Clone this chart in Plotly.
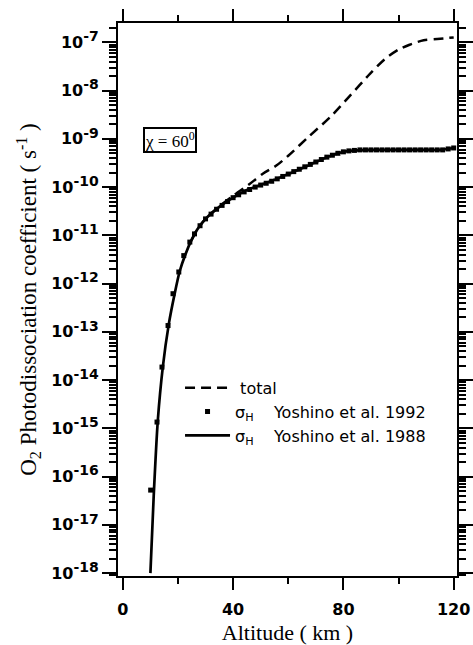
import plotly.graph_objects as go

# ---- data ----
alt_total = [24.9, 27, 30, 35, 40, 46.1, 50.9, 55.8, 60.0, 67.5, 75.2, 82.5, 89.7, 95.0, 100.0, 104.0, 109.1, 114.0, 120]
j_total = [7.94e-12, 1.32e-11, 2.19e-11, 3.98e-11, 6.61e-11, 1.17e-10, 1.91e-10, 2.82e-10, 4.47e-10,
           1.12e-9, 2.82e-9, 7.94e-9, 2.24e-8, 4.47e-8, 7.08e-8, 8.91e-8, 1.10e-7, 1.17e-7, 1.26e-7]

alt_1992 = [10.1, 12.4, 14.2, 16.4, 18.2, 20.3, 22.1, 24.3, 26, 28, 30, 32, 34, 36, 38, 40, 42, 44, 46, 48,
            50, 52, 54, 56, 58, 60, 62, 64, 66, 68, 70, 72, 74, 76, 78, 80, 82, 84, 86, 88, 90, 92, 94,
            96, 98, 100, 102, 104, 106, 108, 110, 112, 114, 116, 118, 120]
j_1992 = [5.25e-17, 1.35e-15, 1.86e-14, 1.35e-13, 6.17e-13, 1.74e-12, 3.80e-12, 7.24e-12, 1.07e-11, 1.58e-11,
          2.19e-11, 2.75e-11, 3.47e-11, 4.17e-11, 5.01e-11, 6.03e-11, 6.92e-11, 7.94e-11, 8.91e-11, 1.00e-10,
          1.10e-10, 1.20e-10, 1.32e-10, 1.48e-10, 1.66e-10, 1.86e-10, 2.09e-10, 2.34e-10, 2.63e-10, 2.95e-10,
          3.31e-10, 3.72e-10, 4.17e-10, 4.57e-10, 5.01e-10, 5.37e-10, 5.62e-10, 5.75e-10, 5.89e-10, 5.89e-10,
          5.89e-10, 5.89e-10, 5.89e-10, 5.89e-10, 5.89e-10, 5.89e-10, 5.89e-10, 5.89e-10, 5.89e-10, 5.89e-10,
          5.89e-10, 5.89e-10, 5.89e-10, 5.89e-10, 6.17e-10, 6.46e-10]

alt_1988 = [10, 11.2, 12.7, 14.5, 16.7, 18.8, 20.6, 22.8, 24.9, 27, 30, 35, 40, 45, 50, 55, 60, 65, 70, 75,
            80, 85, 90, 95, 100, 105, 110, 115, 120]
j_1988 = [1.0e-18, 3.98e-17, 1.48e-15, 1.86e-14, 1.48e-13, 6.17e-13, 1.78e-12, 4.17e-12, 7.94e-12, 1.32e-11,
          2.19e-11, 3.89e-11, 6.03e-11, 8.71e-11, 1.10e-10, 1.41e-10, 1.86e-10, 2.45e-10, 3.31e-10, 4.37e-10,
          5.37e-10, 5.75e-10, 5.89e-10, 5.89e-10, 5.89e-10, 5.89e-10, 5.89e-10, 5.89e-10, 6.46e-10]

x_tick_vals = [0, 40, 80, 120]
x_minor_vals = [20, 60, 100]
y_exponents = [-18, -17, -16, -15, -14, -13, -12, -11, -10, -9, -8, -7]
y_tick_vals = [10.0 ** e for e in y_exponents]
y_tick_text = ["10<sup><span style=\"font-size:14px\">%d</span></sup>" % e for e in y_exponents]
y_minor_vals = [m * 10.0 ** e for e in y_exponents + [-19] for m in range(2, 10)]

legend_names = ["&nbsp;total",
                "σ<sub>H</sub>&nbsp;&nbsp;&nbsp; Yoshino et al. 1992",
                "σ<sub>H</sub>&nbsp;&nbsp;&nbsp; Yoshino et al. 1988"]

fig = go.Figure()
fig.add_trace(go.Scatter(x=alt_total, y=j_total, mode="lines", name=legend_names[0],
                         line=dict(color="black", width=2.5, dash="10px,6px", shape="spline", smoothing=0.8)))
fig.add_trace(go.Scatter(x=alt_1992, y=j_1992, mode="markers", name=legend_names[1],
                         marker=dict(symbol="square", size=5, color="black")))
fig.add_trace(go.Scatter(x=alt_1988, y=j_1988, mode="lines", name=legend_names[2],
                         line=dict(color="black", width=2.7, shape="spline", smoothing=0.6)))

ytickfont = dict(family="DejaVu Sans", size=16, color="black", weight="bold")
xtickfont = dict(family="DejaVu Sans", size=16, color="black", weight="bold")

fig.update_xaxes(range=[-1.75, 121.2], tickmode="array", tickvals=x_tick_vals, automargin=False,
                 ticks="outside", ticklen=12, tickwidth=2, tickcolor="black", ticklabelstandoff=6,
                 minor=dict(tickmode="array", tickvals=x_minor_vals, ticks="outside", ticklen=6,
                            tickwidth=2, tickcolor="black", showgrid=False),
                 showline=True, linewidth=2, linecolor="black", mirror="ticks",
                 showgrid=False, zeroline=False, tickfont=xtickfont,
                 title=dict(text="Altitude ( km )",
                            font=dict(family="Liberation Serif", size=22, color="black"), standoff=6))
fig.update_yaxes(type="log", range=[-18.06, -6.60], tickmode="array", tickvals=y_tick_vals, automargin=False,
                 ticktext=y_tick_text, ticks="outside", ticklen=14, tickwidth=2, tickcolor="black",
                 minor=dict(tickmode="array", tickvals=y_minor_vals, ticks="outside", ticklen=7,
                            tickwidth=1.5, tickcolor="black", showgrid=False),
                 showline=True, linewidth=2, linecolor="black", mirror="ticks",
                 showgrid=False, zeroline=False, tickfont=ytickfont,
                 title=dict(text="O<sub>2</sub> Photodissociation coefficient ( s<sup>-1</sup> )",
                            font=dict(family="Liberation Serif", size=23, color="black"), standoff=8))

fig.add_annotation(xref="paper", yref="paper", x=0.152, y=0.789, xanchor="center", yanchor="middle",
                   showarrow=False,
                   text="χ = 60<sup>0</sup>", font=dict(family="Liberation Serif", size=17, color="black"),
                   bordercolor="black", borderwidth=2, borderpad=0, bgcolor="white")

fig.update_layout(width=473, height=645, autosize=False,
                  margin=dict(l=118, r=16, t=23, b=69),
                  plot_bgcolor="white", paper_bgcolor="white",
                  showlegend=True,
                  legend=dict(x=0.183, y=0.371, xanchor="left", yanchor="top",
                              bgcolor="rgba(0,0,0,0)", itemwidth=45,
                              font=dict(family="DejaVu Sans", size=16, color="black")))

fig.write_html("out.html")
